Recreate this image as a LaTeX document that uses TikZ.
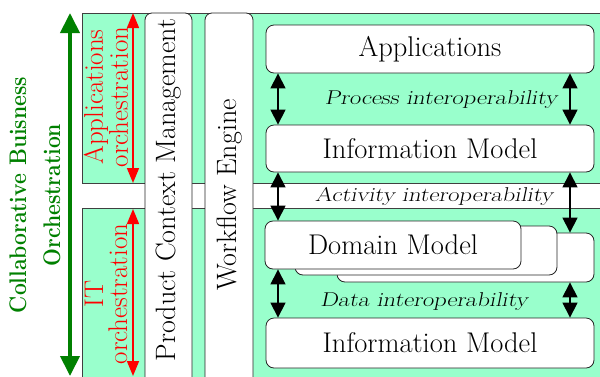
\documentclass[tikz,border=0pt]{standalone}
\usetikzlibrary{arrows.meta}
\definecolor{mint}{RGB}{153,255,204}
\definecolor{panelline}{RGB}{64,64,64}
\definecolor{orchgreen}{RGB}{0,128,0}
\tikzset{
  panel/.style={draw=panelline, line width=0.8pt, fill=mint},
  column/.style={draw=black!85, line width=0.8pt, fill=white, rounded corners=7pt, inner sep=0pt},
  collabel/.style={rotate=90, inner sep=0pt, font=\fontsize{28}{30}\selectfont},
  layer/.style={draw=black!85, line width=0.8pt, fill=white, rounded corners=8pt, inner sep=0pt,
    font=\fontsize{28.5}{30}\selectfont},
  interop/.style={inner sep=0pt, font=\fontsize{20}{22}\selectfont\slshape},
  biarrow/.style={line width=1.2pt, {Triangle[width=15pt,length=15pt]}-{Triangle[width=15pt,length=15pt]}},
  orcharrow/.style={red, line width=1.5pt, {Triangle[width=12pt,length=15pt]}-{Triangle[width=12pt,length=15pt]}},
  orchtext/.style={rotate=90, red, inner sep=0pt, align=center, font=\fontsize{27}{24}\selectfont},
  collabarrow/.style={orchgreen, line width=4pt, {Triangle[width=19pt,length=20pt]}-{Triangle[width=19pt,length=20pt]}},
  collabtext/.style={rotate=90, orchgreen, inner sep=0pt, align=center, font=\fontsize{24}{34}\selectfont\bfseries},
}
\newcommand{\widetext}[1]{\scalebox{1.23}[1]{#1}}
\newcommand{\narrowtext}[1]{\scalebox{0.88}[1]{#1}}
\begin{document}
\begin{tikzpicture}[x=1pt,y=-1pt]
\useasboundingbox (0,0) rectangle (600,376);
\clip (0,0) rectangle (600,376);

% the two orchestration panels
\draw[panel] (82,13) rectangle (612,183);
\draw[panel] (82,208) rectangle (612,392);

% vertical columns spanning both panels
\node[column, minimum width=47pt, minimum height=390pt] (pcm) at (168.5,208) {};
\node[collabel] (pcmtext) at (169,190) {Product Context Management};
\node[column, minimum width=48pt, minimum height=390pt] (wfe) at (229,208) {};
\node[collabel] (wfetext) at (229.5,195) {Workflow Engine};

% layers
\node[layer, minimum width=328pt, minimum height=48pt] (apps) at (430,49) {Applications};
\node[layer, minimum width=328pt, minimum height=47pt] (info1) at (430,148.5) {Information Model};
\node[layer, minimum width=257pt, minimum height=49pt] (dom3) at (465.5,257.5) {};
\node[layer, minimum width=262pt, minimum height=49pt] (dom2) at (426,250.5) {};
\node[layer, minimum width=256pt, minimum height=48pt] (dom) at (393,245) {Domain Model};
\node[layer, minimum width=328pt, minimum height=50pt] (info2) at (430,343) {Information Model};

% interoperability labels
\node[interop] (proc) at (441,100) {\widetext{Process interoperability}};
\node[interop] (act) at (434,196) {\widetext{Activity interoperability}};
\node[interop] (data) at (424,302) {\widetext{Data interoperability}};

% interoperability arrows
\coordinate (la) at (278,0);
\coordinate (ra) at (570,0);
\draw[biarrow] (apps.south -| la) -- (info1.north -| la);
\draw[biarrow] (apps.south -| ra) -- (info1.north -| ra);
\draw[biarrow] (info1.south -| la) -- (dom.north -| la);
\draw[biarrow] (info1.south -| ra) -- (dom3.north -| ra);
\draw[biarrow] (dom.south -| la) -- (info2.north -| la);
\draw[biarrow] (dom3.south -| ra) -- (info2.north -| ra);

% orchestration scopes
\coordinate (apptop) at (133,13);
\coordinate (appbot) at (133,183);
\coordinate (ittop) at (133,209);
\coordinate (itbot) at (133,376);
\draw[orcharrow] (apptop) -- (appbot);
\draw[orcharrow] (ittop) -- (itbot);
\node[orchtext] (apporch) at (106,97) {Applications\\orchestration};
\node[orchtext] (itorch) at (106,294) {IT\\orchestration};

% collaborative business orchestration
\coordinate (gtop) at (70,13);
\coordinate (gbot) at (70,376);
\draw[collabarrow] (gtop) -- (gbot);
\node[collabtext] (collab) at (35,195) {\narrowtext{Collaborative Buisness}\\\narrowtext{Orchestration}};
\end{tikzpicture}
\end{document}
